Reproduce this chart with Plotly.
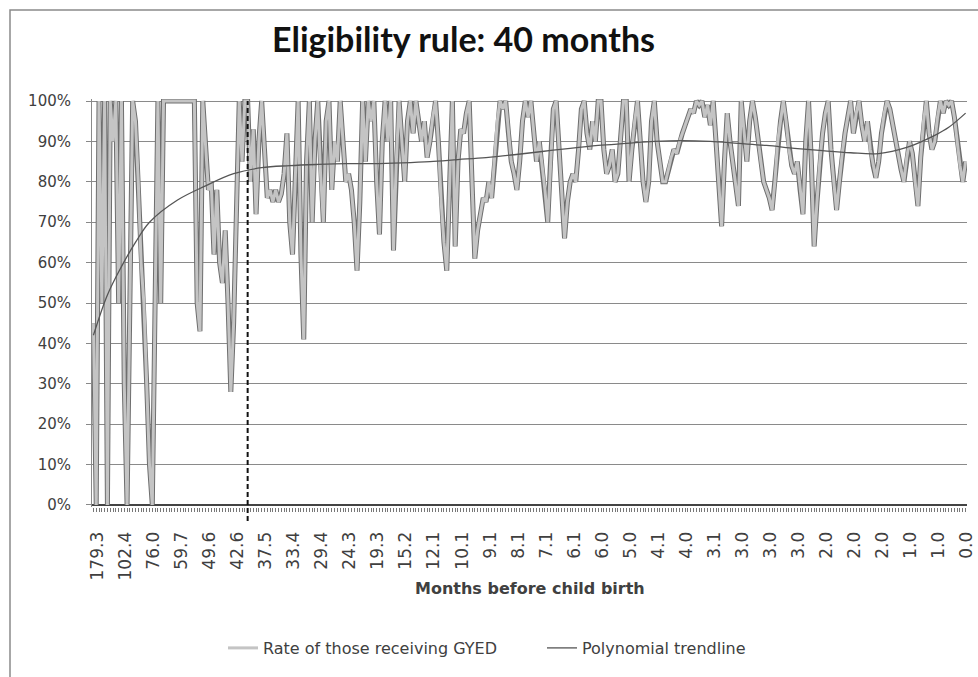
import plotly.graph_objects as go

# ---------------- data ----------------
tick_labels = ["179.3", "102.4", "76.0", "59.7", "49.6", "42.6", "37.5", "33.4",
               "29.4", "24.3", "19.3", "15.2", "12.1", "10.1", "9.1", "8.1",
               "7.1", "6.1", "6.0", "5.0", "4.1", "4.0", "3.1", "3.0",
               "3.0", "3.0", "2.0", "2.0", "2.0", "1.0", "1.0", "0.0"]
label_every = 10

rate = [
    45, 0, 100, 50, 100, 0, 100, 90, 100, 50,
    100, 30, 0, 50, 100, 95, 80, 60, 50, 30,
    10, 0, 50, 100, 50, 100, 100, 100, 100, 100,
    100, 100, 100, 100, 100, 100, 100, 50, 43, 100,
    90, 78, 80, 62, 78, 60, 55, 68, 50, 28,
    45, 70, 100, 85, 100, 100, 80, 93, 72, 90,
    100, 88, 76, 78, 75, 78, 75, 77, 82, 92,
    70, 62, 80, 100, 62, 41, 85, 100, 70, 90,
    100, 82, 70, 95, 100, 78, 90, 85, 100, 90,
    80, 82, 78, 70, 58, 75, 100, 85, 100, 95,
    100, 80, 67, 90, 100, 90, 100, 63, 85, 100,
    90, 80, 95, 100, 92, 100, 95, 90, 95, 86,
    90, 96, 100, 90, 75, 65, 58, 80, 100, 64,
    85, 93, 92, 97, 100, 80, 61, 68, 72, 76,
    75, 80, 76, 85, 95, 100, 98, 100, 92, 85,
    82, 78, 85, 95, 100, 96, 100, 92, 85, 90,
    84, 78, 70, 85, 98, 100, 88, 75, 66, 75,
    80, 82, 80, 88, 98, 100, 92, 88, 95, 90,
    100, 100, 88, 82, 84, 88, 80, 82, 90, 100,
    100, 80, 88, 95, 100, 90, 80, 75, 80, 95,
    100, 90, 85, 80, 80, 83, 86, 88, 87, 90,
    92, 94, 96, 98, 97, 100, 99, 100, 96, 99,
    94, 100, 90, 80, 69, 85, 97, 90, 85, 80,
    74, 100, 92, 85, 95, 100, 96, 90, 85, 80,
    78, 76, 73, 80, 90, 95, 100, 95, 88, 84,
    82, 85, 78, 72, 90, 100, 85, 64, 75, 85,
    92, 97, 100, 88, 80, 73, 80, 87, 92, 96,
    100, 92, 97, 100, 94, 90, 95, 88, 84, 81,
    85, 92, 97, 100, 98, 94, 90, 86, 83, 80,
    86, 90, 87, 80, 74, 86, 95, 100, 92, 88,
    90, 96, 100, 97, 100, 99, 100, 96, 90, 84,
    80, 85,
]

trend_idx = [0, 5, 10, 15, 20, 30, 40, 50, 60, 70, 80, 90, 100, 110, 120, 130,
             140, 150, 160, 170, 180, 190, 200, 210, 220, 230, 240, 250, 260,
             270, 280, 290, 300, 305, 311]
trend_val = [42, 52, 59, 65, 70, 75.5, 79, 82, 83.5, 84, 84.3, 84.5, 84.5, 84.7,
             85, 85.5, 86, 86.7, 87.5, 88.3, 89, 89.5, 90, 90.2, 90, 89.5, 89,
             88.3, 87.7, 87.2, 87, 88.5, 91.5, 93.5, 97]

cutoff_category = 55  # eligibility rule: 40 months

# ---------------- figure ----------------
W, H = 978, 677
ML, MR, MT, MB = 92, 11, 99, 170
PW = W - ML - MR
PH = H - MT - MB


def px_x(px):
    return (px - ML) / PW


def px_y(py):
    return (H - MB - py) / PH


n = len(rate)
x = list(range(n))
tickvals = list(range(n))
ticktext = [tick_labels[i // label_every] if i % label_every == 0 and i // label_every < len(tick_labels) else ""
            for i in range(n)]

TFONT = "Lato"
FONT = "DejaVu Sans"
TXT = "#404040"

fig = go.Figure()
fig.add_trace(go.Scatter(x=x, y=rate, mode="lines", line=dict(color="#6e6e6e", width=5),
                         showlegend=False, hoverinfo="skip"))
fig.add_trace(go.Scatter(x=x, y=rate, mode="lines", line=dict(color="#c4c4c4", width=3),
                         name="Rate of those receiving GYED"))
fig.add_trace(go.Scatter(x=trend_idx, y=trend_val, mode="lines", line=dict(color="#555555", width=1.3, shape="spline"),
                         name="Polynomial trendline"))

fig.add_shape(type="line", xref="x", yref="paper", x0=cutoff_category, x1=cutoff_category,
              y0=px_y(521), y1=px_y(101), line=dict(color="#111111", width=2, dash="5px,3px"))
fig.add_shape(type="rect", xref="paper", yref="paper", x0=px_x(10), x1=px_x(990), y0=px_y(690), y1=px_y(10),
              line=dict(color="#8a8a8a", width=1.5), layer="below")

fig.add_annotation(text="Months before child birth", xref="paper", yref="paper",
                   x=px_x(530), y=px_y(588), showarrow=False, xanchor="center", yanchor="middle",
                   font=dict(family=FONT, size=16, color=TXT, weight="bold"))

fig.update_layout(
    width=W, height=H,
    margin=dict(l=ML, r=MR, t=MT, b=MB, autoexpand=False),
    paper_bgcolor="white", plot_bgcolor="white",
    title=dict(text="Eligibility rule: 40 months", x=463.5 / W, xanchor="center", xref="container",
               y=1 - 40 / H, yanchor="middle", yref="container",
               font=dict(family=TFONT, size=34, color="#111111", weight="bold")),
    showlegend=True,
    legend=dict(orientation="h", x=px_x(223), xanchor="left", y=px_y(648), yanchor="middle",
                entrywidth=274, entrywidthmode="pixels",
                font=dict(family=FONT, size=16, color=TXT), bgcolor="rgba(0,0,0,0)"),
    xaxis=dict(range=[-0.5, n - 0.5], tickmode="array", tickvals=tickvals, ticktext=ticktext,
               tickangle=-90, ticks="outside", ticklen=4, tickcolor="#777777", tickwidth=1,
               showgrid=False, showline=False, zeroline=False,
               ticklabelstandoff=13, ticklabelshift=4,
               tickfont=dict(family=FONT, size=17, color=TXT)),
    yaxis=dict(range=[-0.5, 100.5], tickmode="linear", tick0=0, dtick=10, ticksuffix="%",
               ticks="outside", ticklen=5, tickcolor="#888888",
               showgrid=True, gridcolor="#8a8a8a", gridwidth=1,
               showline=True, linecolor="#8a8a8a", linewidth=1,
               zeroline=True, zerolinecolor="#444444", zerolinewidth=1.5,
               ticklabelstandoff=12,
               tickfont=dict(family=FONT, size=15, color=TXT)),
)

fig.write_html("out.html", post_script="document.body.style.margin='0px';",
               config={"displayModeBar": False})
